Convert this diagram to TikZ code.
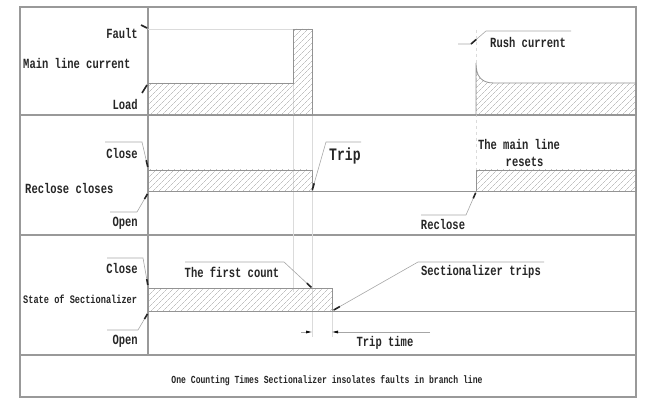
\documentclass[tikz,border=0pt]{standalone}
\usepackage{fontspec}
\newfontfamily\labfont[FakeStretch=0.75]{Liberation Mono}
\usetikzlibrary{patterns.meta,calc,arrows.meta}
\begin{document}
\begin{tikzpicture}[x=1pt,y=-1pt,
  frame/.style={draw=gray!80, line width=1.1pt},
  sig/.style={draw=gray!85, line width=0.8pt},
  hatch/.style={sig, pattern={Lines[angle=45,distance=4pt,line width=0.45pt]}, pattern color=gray!75},
  lead/.style={draw=gray!70, line width=0.6pt},
  guide/.style={draw=gray!28, line width=0.5pt},
  boldtick/.style={line width=1.6pt, black!85},
  lbl/.style={font=\labfont\bfseries\fontsize{14}{16}\selectfont, text=black!85, inner sep=0pt},
  small/.style={font=\labfont\bfseries\fontsize{11.5}{13}\selectfont, text=black!85, inner sep=0pt},
  tiny/.style={font=\labfont\bfseries\fontsize{10.8}{12}\selectfont, text=black!85, inner sep=0pt},
  big/.style={font=\labfont\bfseries\fontsize{17.5}{19}\selectfont, text=black!85, inner sep=0pt},
  dimarrow/.style={draw=gray!70, line width=0.6pt, -{Latex[length=6pt,width=3pt,black]}},
]
\useasboundingbox (0,0) rectangle (651,409);

% ---------- frame ----------
\draw[frame] (20,7) rectangle (636,397);
\draw[frame] (20,115) -- (636,115);
\draw[frame] (20,235) -- (636,235);
\draw[frame] (20,355) -- (636,355);
\draw[frame] (148,7) -- (148,355);

% ---------- guide lines ----------
\draw[guide] (148,29) -- (293,29);
\draw[guide] (293,29) -- (293,292);
\draw[guide] (312,29) -- (312,337);
\draw[guide] (332,310) -- (332,337);
\draw[guide, dashed] (476,30) -- (476,170);

% ---------- panel 1 : main line current ----------
\draw[hatch] (148,83) -- (293,83) -- (293,29) -- (312,29) -- (312,115) -- (148,115) -- cycle;
\draw[hatch] (476,63) .. controls (476,76) and (481,83) .. (494,83) -- (636,83) -- (636,115) -- (476,115) -- cycle;

\node[lbl, anchor=east] (fault) at (138,33) {Fault};
\node[lbl, anchor=east] (load) at (138,104) {Load};
\node[lbl, anchor=west] (mlc) at (23,63) {Main line current};
\coordinate (faultA) at (141,25);
\coordinate (faultB) at (147,28);
\draw[boldtick] (faultA) -- (faultB);
\coordinate (loadA) at (142,93);
\coordinate (loadB) at (147,85);
\draw[boldtick] (loadA) -- (loadB);

\node[lbl, anchor=west] (rush) at (490,42) {Rush current};
\coordinate (r1) at (458,44);
\coordinate (r2) at (471,44);
\coordinate (r3) at (486,31);
\coordinate (r4) at (571,31);
\draw[lead] (r1) -- (r2) -- (r3) -- (r4);
\draw[boldtick] (r2) -- ($(r2)!7pt!(r3)$);

% ---------- panel 2 : recloser ----------
\draw[sig] (148,191) -- (636,191);
\draw[hatch] (148,170) rectangle (312,191);
\draw[hatch] (476,170) rectangle (636,191);

\node[lbl, anchor=east] (close2) at (138,153) {Close};
\node[lbl, anchor=east] (open2) at (138,223) {Open};
\node[lbl, anchor=west] (rc) at (25,188) {Reclose closes};

\coordinate (c2a) at (105,142);
\coordinate (c2b) at (142,142);
\coordinate (c2c) at (148,168);
\draw[lead] (c2a) -- (c2b) -- (c2c);
\draw[boldtick] ($(c2c)!1pt!(c2b)$) -- ($(c2c)!8pt!(c2b)$);

\coordinate (o2a) at (110,212);
\coordinate (o2b) at (137,212);
\coordinate (o2c) at (148,193);
\draw[lead] (o2a) -- (o2b) -- (o2c);
\draw[boldtick] ($(o2c)!1pt!(o2b)$) -- ($(o2c)!7pt!(o2b)$);

\node[big, anchor=west] (trip) at (329,156) {Trip};
\coordinate (t1) at (312,191);
\coordinate (t2) at (326,142);
\coordinate (t3) at (361,142);
\draw[lead] (t1) -- (t2) -- (t3);
\draw[boldtick] ($(t1)!1pt!(t2)$) -- ($(t1)!8pt!(t2)$);

\node[lbl, align=center] (resets) at (519,153) {The main line\\[1pt]\hspace*{0.8em}resets};

\node[lbl] (reclose) at (443,224) {Reclose};
\coordinate (rc1) at (421,215);
\coordinate (rc2) at (466,215);
\coordinate (rc3) at (476,192);
\draw[lead] (rc1) -- (rc2) -- (rc3);
\draw[boldtick] ($(rc3)!1pt!(rc2)$) -- ($(rc3)!7pt!(rc2)$);

% ---------- panel 3 : sectionalizer ----------
\draw[sig] (148,311) -- (636,311);
\draw[hatch] (148,288) rectangle (332,311);

\node[lbl, anchor=east] (close3) at (138,268) {Close};
\node[lbl, anchor=east] (open3) at (138,341) {Open};
\node[small, anchor=west] (state) at (23,299) {State of Sectionalizer};

\coordinate (c3a) at (107,258);
\coordinate (c3b) at (143,258);
\coordinate (c3c) at (148,286);
\draw[lead] (c3a) -- (c3b) -- (c3c);
\draw[boldtick] ($(c3c)!1pt!(c3b)$) -- ($(c3c)!7pt!(c3b)$);

\coordinate (o3a) at (107,330);
\coordinate (o3b) at (138,330);
\coordinate (o3c) at (148,313);
\draw[lead] (o3a) -- (o3b) -- (o3c);
\draw[boldtick] ($(o3c)!1pt!(o3b)$) -- ($(o3c)!7pt!(o3b)$);

\node[lbl] (first) at (232,272) {The first count};
\coordinate (f1) at (185,262);
\coordinate (f2) at (284,262);
\coordinate (f3) at (312,288);
\draw[lead] (f1) -- (f2) -- (f3);
\draw[boldtick] ($(f3)!1pt!(f2)$) -- ($(f3)!7pt!(f2)$);

\node[lbl] (strips) at (481,272) {Sectionalizer trips};
\coordinate (s1) at (332,311);
\coordinate (s2) at (418,262);
\coordinate (s3) at (544,262);
\draw[lead] (s1) -- (s2) -- (s3);
\draw[boldtick] ($(s1)!2pt!(s2)$) -- ($(s1)!9pt!(s2)$);

% trip time
\coordinate (ta) at (301,332);
\coordinate (tb) at (312,332);
\coordinate (tc) at (430,332);
\coordinate (td) at (332,332);
\draw[dimarrow] (ta) -- (tb);
\draw[dimarrow] (tc) -- (td);
\node[lbl] (triptime) at (385,343) {Trip time};

% ---------- caption ----------
\node[tiny] (caption) at (327,381) {One Counting Times Sectionalizer insolates faults in branch line};

\end{tikzpicture}
\end{document}
